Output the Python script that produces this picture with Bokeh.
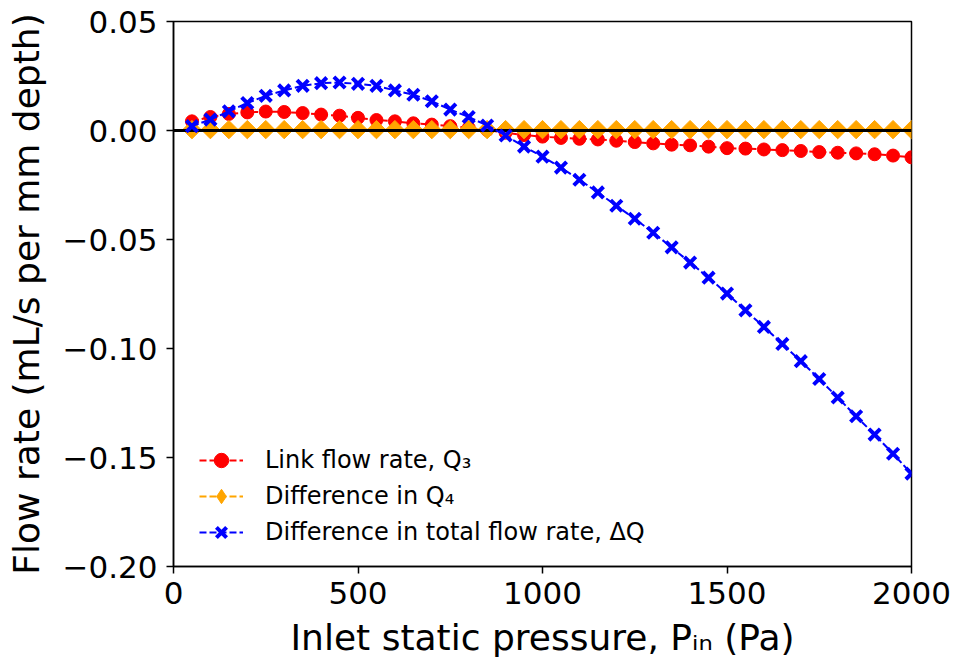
from bokeh.plotting import figure
from bokeh.models import Range1d, FixedTicker, Legend, LegendItem
from bokeh.embed import file_html
from bokeh.resources import INLINE

# ---- data ----
pressure = [50, 100, 150, 200, 250, 300, 350, 400, 450, 500,
            550, 600, 650, 700, 750, 800, 850, 900, 950, 1000,
            1050, 1100, 1150, 1200, 1250, 1300, 1350, 1400, 1450, 1500,
            1550, 1600, 1650, 1700, 1750, 1800, 1850, 1900, 1950, 2000]

q3_link = [0.0042, 0.0062, 0.0076, 0.0083, 0.0087, 0.0085, 0.0080, 0.0073, 0.0068, 0.0058,
           0.0048, 0.0042, 0.0033, 0.0027, 0.0020, 0.0012, 0.0002, -0.0010, -0.0021, -0.0028,
           -0.0034, -0.0038, -0.0041, -0.0047, -0.0053, -0.0059, -0.0065, -0.0068, -0.0074, -0.0081,
           -0.0083, -0.0087, -0.0090, -0.0094, -0.0099, -0.0102, -0.0105, -0.0109, -0.0115, -0.0123]

q4_diff = [0.0004, 0.0004, 0.0004, 0.0004, 0.0004, 0.0004, 0.0004, 0.0004, 0.0004, 0.0004,
           0.0004, 0.0004, 0.0004, 0.0004, 0.0004, 0.0004, 0.0004, 0.0004, 0.0004, 0.0004,
           0.0004, 0.0004, 0.0004, 0.0004, 0.0004, 0.0004, 0.0004, 0.0004, 0.0004, 0.0004,
           0.0004, 0.0004, 0.0004, 0.0004, 0.0004, 0.0004, 0.0004, 0.0004, 0.0004, 0.0004]

total_diff = [0.0020, 0.0050, 0.0088, 0.0126, 0.0159, 0.0184, 0.0205, 0.0217, 0.0220, 0.0214,
              0.0205, 0.0184, 0.0164, 0.0134, 0.0096, 0.0062, 0.0023, -0.0023, -0.0074, -0.0120,
              -0.0170, -0.0226, -0.0284, -0.0345, -0.0405, -0.0469, -0.0536, -0.0606, -0.0675, -0.0748,
              -0.0825, -0.0901, -0.0979, -0.1058, -0.1140, -0.1225, -0.1311, -0.1395, -0.1483, -0.1574]

x_ticks = [0, 500, 1000, 1500, 2000]
y_ticks = [0.05, 0.0, -0.05, -0.10, -0.15, -0.20]
y_tick_labels = ["0.05", "0.00", "\u22120.05", "\u22120.10", "\u22120.15", "\u22120.20"]

labels = ["Link flow rate, Q\u2083", "Difference in Q\u2084",
          "Difference in total flow rate, \u0394Q"]

FONT = "DejaVu Sans"
NAN = float("nan")

p = figure(width=955, height=660, output_backend="svg", toolbar_location=None,
           x_range=Range1d(0, 2000), y_range=Range1d(-0.20, 0.05),
           min_border_left=173, min_border_right=44, min_border_top=21,
           min_border_bottom=90)
p.grid.visible = False
p.outline_line_color = "black"
p.outline_line_width = 1.5
p.background_fill_color = "white"
p.border_fill_color = "white"

dash = "7 3"
r1l = p.line(pressure, q3_link, line_color="red", line_width=2, line_dash=dash)
r1m = p.scatter(pressure, q3_link, marker="circle", size=13, fill_color="red", line_color="red")
r2l = p.line(pressure, q4_diff, line_color="orange", line_width=2, line_dash=dash)
r2m = p.scatter(pressure, q4_diff, marker="square", angle=0.785398, size=13,
                fill_color="orange", line_color="orange")
# diamond shown only in the legend (rotated squares are not rotated there)
r2leg = p.scatter(x=[NAN], y=[NAN], marker="diamond", size=20,
                  fill_color="orange", line_color="orange")
p.hspan(y=[0.0], line_color="black", line_width=3)
r3l = p.line(pressure, total_diff, line_color="blue", line_width=2, line_dash=dash)
r3m = p.scatter(pressure, total_diff, marker="x", size=16, line_color="blue", line_width=4)

for ax in (p.xaxis[0], p.yaxis[0]):
    ax.axis_line_width = 1.5
    ax.major_tick_line_width = 1.5
    ax.major_tick_out = 7
    ax.major_tick_in = 0
    ax.minor_tick_out = 0
    ax.minor_tick_in = 0
    ax.major_label_text_font = FONT
    ax.major_label_text_font_size = "31px"
    ax.major_label_text_color = "black"
    ax.axis_label_text_font = FONT
    ax.axis_label_text_font_size = "36px"
    ax.axis_label_text_font_style = "normal"
    ax.axis_label_text_color = "black"

p.xaxis.ticker = FixedTicker(ticks=x_ticks)
p.yaxis.ticker = FixedTicker(ticks=y_ticks)
p.yaxis.major_label_overrides = {t: s for t, s in zip(y_ticks, y_tick_labels)}
p.xaxis.major_label_standoff = 8
p.yaxis.major_label_standoff = 9
p.xaxis.axis_label = "Inlet static pressure, P\u1d62\u2099 (Pa)"
p.yaxis.axis_label = "Flow rate (mL/s per mm depth)"
p.xaxis.axis_label_standoff = 10
p.yaxis.axis_label_standoff = 13

legend = Legend(items=[LegendItem(label=labels[0], renderers=[r1l, r1m]),
                       LegendItem(label=labels[1], renderers=[r2l, r2leg]),
                       LegendItem(label=labels[2], renderers=[r3l, r3m])],
                location=(16, 6))
legend.label_text_font = FONT
legend.label_text_font_size = "24px"
legend.label_text_color = "black"
legend.glyph_width = 44
legend.glyph_height = 36
legend.label_height = 36
legend.label_standoff = 22
legend.spacing = 0
legend.padding = 10
legend.margin = 0
legend.border_line_alpha = 0
legend.background_fill_alpha = 0
p.add_layout(legend, "center")

open("out.html", "w").write(file_html(p, INLINE))
